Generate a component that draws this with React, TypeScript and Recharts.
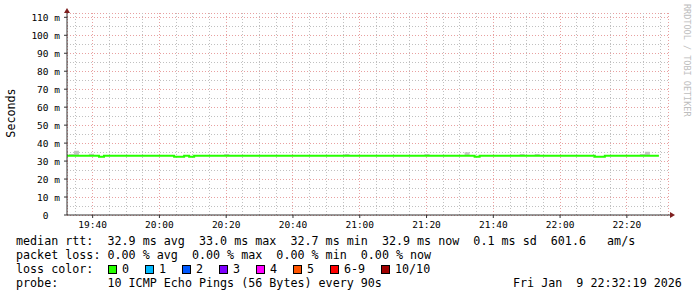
import React from 'react';
import {
  ComposedChart,
  Line,
  Area,
  XAxis,
  YAxis,
  CartesianGrid,
  ReferenceDot,
  ReferenceLine,
} from 'recharts';

// ---- Axis domains (minutes of day, milliseconds) ----
const X_START = 1172.32; // 19:32:19
const X_END = 1352.32; // 22:32:19
const Y_MAX = 112.4;

// ---- Tick values / labels ----
const majorTimeTicks = [1180, 1200, 1220, 1240, 1260, 1280, 1300, 1320, 1340];
const timeLabels = ['19:40', '20:00', '20:20', '20:40', '21:00', '21:20', '21:40', '22:00', '22:20'];
const minorTimeTicks = [
  1175, 1185, 1190, 1195, 1205, 1210, 1215, 1225, 1230, 1235, 1245, 1250, 1255,
  1265, 1270, 1275, 1285, 1290, 1295, 1305, 1310, 1315, 1325, 1330, 1335, 1345, 1350,
];
const majorValueTicks = [0, 10, 20, 30, 40, 50, 60, 70, 80, 90, 100, 110];
const minorValueTicks = [5, 15, 25, 35, 45, 55, 65, 75, 85, 95, 105];

// ---- Median RTT (stepped) ----
const medianTimes = [1172.32, 1181.9, 1183.4, 1204.4, 1207.4, 1208.9, 1210.4, 1294.4, 1295.9, 1330.4, 1333.4, 1349.6];
const medianValues = [32.9, 32.4, 32.9, 32.4, 32.9, 32.4, 32.9, 32.4, 32.9, 32.4, 32.9, 32.9];

// ---- Smoke (ping spread above median) ----
const smokeStart = [1172.9, 1174.4, 1178.9, 1219.4, 1255.4, 1279.4, 1291.4, 1307.9, 1312.4, 1343.9, 1345.4];
const smokeEnd = [1174.4, 1175.9, 1180.4, 1220.9, 1256.9, 1280.9, 1292.9, 1309.4, 1313.9, 1345.4, 1346.9];
const smokeTop = [34.0, 35.8, 34.1, 34.0, 34.0, 34.0, 34.9, 34.0, 34.0, 34.0, 35.2];
const SMOKE_BASE = 32.9;

// ---- Legend ----
const statLine1 = 'median rtt:  32.9 ms avg  33.0 ms max  32.7 ms min  32.9 ms now  0.1 ms sd  601.6   am/s';
const statLine2 = 'packet loss: 0.00 % avg  0.00 % max  0.00 % min  0.00 % now';
const lossLabels = ['0', '1', '2', '3', '4', '5', '6-9', '10/10'];
const lossColors = ['#26ff00', '#00b8ff', '#0059ff', '#7e00ff', '#ff00ff', '#ff5500', '#ff0000', '#a10000'];
const probeLine = 'probe:       10 ICMP Echo Pings (56 Bytes) every 90s';
const dateLine = 'Fri Jan  9 22:32:19 2026';

const medianData = medianTimes.map((t, i) => ({ t, v: medianValues[i] }));

const smokeData: { t: number; r: [number, number] | null }[] = [];
smokeStart.forEach((s, i) => {
  smokeData.push({ t: s, r: [SMOKE_BASE, smokeTop[i]] });
  const next = smokeStart[i + 1];
  if (next === undefined || Math.abs(next - smokeEnd[i]) > 0.01) {
    smokeData.push({ t: smokeEnd[i], r: [SMOKE_BASE, smokeTop[i]] });
    smokeData.push({ t: smokeEnd[i], r: null });
  }
});

const MONO = '"DejaVu Sans Mono", "Liberation Mono", monospace';
const pre = (s: string) => s.replace(/ /g, '\u00A0');

const XTick = (props: any) => {
  const { x, y, payload } = props;
  const idx = majorTimeTicks.indexOf(payload.value);
  return (
    <text x={x} y={y + 7} textAnchor="middle" fontFamily={MONO} fontSize={9.5} fill="#000">
      {idx >= 0 ? timeLabels[idx] : ''}
    </text>
  );
};

const YTick = (props: any) => {
  const { x, y, payload } = props;
  const v = payload.value;
  return (
    <text x={x} y={y + 3.5} textAnchor="end" fontFamily={MONO} fontSize={9.5} fill="#000">
      {pre(v === 0 ? '0  ' : `${v} m`)}
    </text>
  );
};

const RightArrow = (props: any) => {
  const { cx, cy } = props;
  return (
    <g>
      <line x1={cx} y1={cy} x2={cx + 3} y2={cy} stroke="#333" strokeWidth={1} />
      <path d={`M${cx + 2},${cy - 3} L${cx + 7},${cy} L${cx + 2},${cy + 3} Z`} fill="#7f1f1f" />
    </g>
  );
};

const UpArrow = (props: any) => {
  const { cx, cy } = props;
  return <path d={`M${cx - 3},${cy} L${cx},${cy - 5} L${cx + 3},${cy} Z`} fill="#7f1f1f" />;
};

export default function App() {
  return (
    <div style={{ position: 'absolute', left: 0, top: 0, width: 697, height: 297, background: '#fff' }}>
      <ComposedChart width={697} height={297} margin={{ top: 13, right: 29, bottom: 62, left: 7 }}>
        <XAxis
          dataKey="t"
          type="number"
          domain={[X_START, X_END]}
          allowDataOverflow
          ticks={majorTimeTicks}
          tick={<XTick />}
          tickSize={3}
          tickMargin={3}
          height={20}
          axisLine={{ stroke: '#333' }}
          tickLine={{ stroke: '#333' }}
          interval={0}
        />
        <YAxis
          type="number"
          domain={[0, Y_MAX]}
          allowDataOverflow
          ticks={majorValueTicks}
          tick={<YTick />}
          tickSize={3}
          tickMargin={4}
          width={60}
          axisLine={{ stroke: '#333' }}
          tickLine={{ stroke: '#333' }}
          interval={0}
        />
        <CartesianGrid stroke="#e8a0a0" strokeDasharray="1 2" shapeRendering="crispEdges" />
        {minorTimeTicks.map((t) => (
          <ReferenceLine
            key={`vx${t}`}
            x={t}
            stroke="#c0c0c0"
            strokeDasharray="1 2"
            shapeRendering="crispEdges"
          />
        ))}
        {minorValueTicks.map((v) => (
          <ReferenceLine
            key={`hy${v}`}
            y={v}
            stroke="#c0c0c0"
            strokeDasharray="1 2"
            shapeRendering="crispEdges"
          />
        ))}
        <Area
          data={smokeData}
          dataKey="r"
          type="stepAfter"
          fill="#c4c4c4"
          fillOpacity={1}
          stroke="none"
          isAnimationActive={false}
          connectNulls={false}
        />
        <Line
          data={medianData}
          dataKey="v"
          type="stepAfter"
          stroke="#26ff00"
          strokeWidth={2}
          dot={false}
          activeDot={false}
          isAnimationActive={false}
        />
        <ReferenceDot x={X_END} y={0} ifOverflow="visible" shape={<RightArrow />} />
        <ReferenceDot x={X_START} y={Y_MAX} ifOverflow="visible" shape={<UpArrow />} />
      </ComposedChart>
      <svg
        width={697}
        height={297}
        style={{ position: 'absolute', left: 0, top: 0, pointerEvents: 'none' }}
      >
        <text
          transform="translate(15,113) rotate(-90)"
          textAnchor="middle"
          fontFamily={MONO}
          fontSize={11.7}
          fill="#000"
        >
          Seconds
        </text>
        <text transform="translate(684,4) rotate(90)" fontFamily={MONO} fontSize={8.5} fill="#bdbdbd">
          {pre('RRDTOOL / TOBI OETIKER')}
        </text>
        <g fontFamily={MONO} fontSize={11.7} fill="#000">
          <text x={16} y={245}>{pre(statLine1)}</text>
          <text x={16} y={259}>{pre(statLine2)}</text>
          <text x={16} y={273}>{pre('loss color:')}</text>
          {lossLabels.map((lab, i) => {
            const extra = i === 7 ? 14 : 0;
            const sx = 108.5 + i * 37 + extra;
            return (
              <g key={lab}>
                <rect x={sx} y={265.5} width={8} height={8} fill={lossColors[i]} stroke="#000" strokeWidth={1} />
                <text x={sx + 13.5} y={273}>{lab}</text>
              </g>
            );
          })}
          <text x={16} y={287}>{pre(probeLine)}</text>
          <text x={513} y={287}>{pre(dateLine)}</text>
        </g>
      </svg>
    </div>
  );
}
